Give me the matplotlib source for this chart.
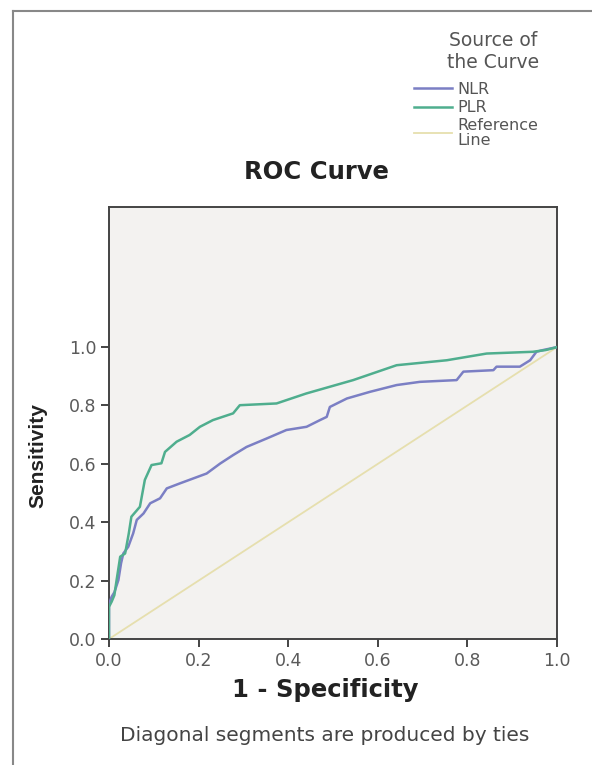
import matplotlib
matplotlib.use('Agg')
import matplotlib.pyplot as plt
from matplotlib.lines import Line2D

# ROC points (1 - specificity, sensitivity)
nlr_fpr = [0.000, 0.000, 0.006, 0.012, 0.021, 0.027, 0.032, 0.043, 0.054, 0.062,
           0.077, 0.092, 0.114, 0.129, 0.158, 0.188, 0.218, 0.248, 0.277, 0.307,
           0.352, 0.396, 0.441, 0.471, 0.486, 0.493, 0.531, 0.583, 0.642, 0.694,
           0.776, 0.791, 0.858, 0.865, 0.917, 0.940, 0.954, 0.969, 1.000]
nlr_tpr = [0.000, 0.120, 0.145, 0.160, 0.202, 0.260, 0.293, 0.316, 0.362, 0.408,
           0.430, 0.465, 0.482, 0.516, 0.533, 0.550, 0.567, 0.601, 0.630, 0.658,
           0.687, 0.716, 0.727, 0.750, 0.761, 0.795, 0.824, 0.847, 0.870, 0.881,
           0.887, 0.916, 0.921, 0.933, 0.933, 0.955, 0.984, 0.990, 1.000]

plr_fpr = [0.000, 0.000, 0.006, 0.012, 0.017, 0.025, 0.036, 0.044, 0.050, 0.069,
           0.080, 0.095, 0.117, 0.125, 0.151, 0.180, 0.203, 0.232, 0.277, 0.292,
           0.374, 0.440, 0.545, 0.642, 0.754, 0.843, 0.946, 0.975, 1.000]
plr_tpr = [0.000, 0.110, 0.128, 0.150, 0.202, 0.282, 0.293, 0.360, 0.419, 0.453,
           0.545, 0.596, 0.602, 0.641, 0.676, 0.699, 0.727, 0.750, 0.773, 0.801,
           0.807, 0.841, 0.887, 0.938, 0.955, 0.978, 0.984, 0.990, 1.000]

ref_x = [0.0, 1.0]
ref_y = [0.0, 1.0]

ticks = [0.0, 0.2, 0.4, 0.6, 0.8, 1.0]
tick_labels = ['0.0', '0.2', '0.4', '0.6', '0.8', '1.0']

fig = plt.figure(figsize=(5.92, 7.65), dpi=100)
ax = fig.add_axes([0.1841, 0.1647, 0.7568, 0.5647])
ax.set_facecolor('#f3f2f0')

ref_line, = ax.plot(ref_x, ref_y, color='#e6dfae', lw=1.3, zorder=2)
nlr_line, = ax.plot(nlr_fpr, nlr_tpr, color='#7b7fc4', lw=1.8, zorder=3)
plr_line, = ax.plot(plr_fpr, plr_tpr, color='#4fae8e', lw=1.8, zorder=3)

ax.set_xlim(0, 1)
ax.set_ylim(0, 1.48)
ax.set_xticks(ticks)
ax.set_xticklabels(tick_labels)
ax.set_yticks(ticks)
ax.set_yticklabels(tick_labels)
ax.tick_params(direction='out', length=6, width=1.4, colors='#444444',
               labelcolor='#5a5a5a', labelsize=12.5, pad=3)
for s in ax.spines.values():
    s.set_color('#444444')
    s.set_linewidth(1.4)

fig.text(0.534, 0.775, 'ROC Curve', ha='center', va='center',
         fontsize=17.5, fontweight='bold', color='#222222', family='DejaVu Sans')
fig.text(0.549, 0.098, '1 - Specificity', ha='center', va='center',
         fontsize=17.5, fontweight='bold', color='#222222', family='DejaVu Sans')
fig.text(0.064, 0.405, 'Sensitivity', ha='center', va='center', rotation=90,
         fontsize=15, fontweight='bold', color='#222222', family='Liberation Sans')
fig.text(0.549, 0.039, 'Diagonal segments are produced by ties', ha='center',
         va='center', fontsize=14.5, color='#444444', family='DejaVu Sans')

# legend in the top right corner
fig.text(493 / 592, 1 - 51 / 765, 'Source of\nthe Curve', ha='center',
         va='center', fontsize=13.5, color='#555555', family='DejaVu Sans',
         linespacing=1.2)
leg = fig.legend([nlr_line, plr_line, ref_line], ['NLR', 'PLR', 'Reference\nLine'],
                 loc='upper left', bbox_to_anchor=(414 / 592, 1 - 82 / 765),
                 frameon=False, prop={'family': 'DejaVu Sans', 'size': 11.5},
                 handlelength=2.4, handletextpad=0.3, labelspacing=0.2,
                 borderaxespad=0, borderpad=0)
for t in leg.get_texts():
    t.set_color('#555555')
    t.set_linespacing(0.95)

# outer frame (left and top edges only)
fig.add_artist(Line2D([13 / 592, 13 / 592], [0, 1 - 11 / 765],
                      transform=fig.transFigure, color='#888888', lw=1.5))
fig.add_artist(Line2D([13 / 592, 1], [1 - 11 / 765, 1 - 11 / 765],
                      transform=fig.transFigure, color='#888888', lw=1.5))

fig.savefig('out.png', dpi=100)
